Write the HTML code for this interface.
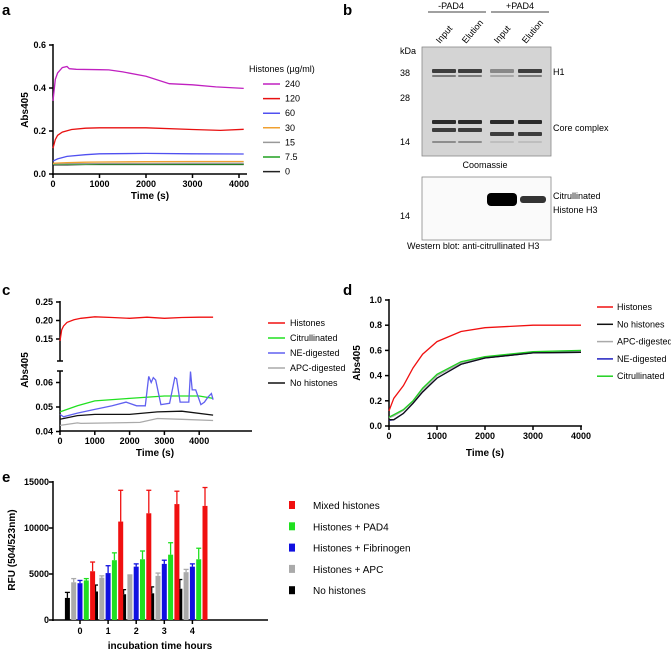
<!DOCTYPE html>
<html><head><meta charset="utf-8"><style>
body{margin:0;background:#fff;width:671px;height:652px;overflow:hidden}
svg{font-family:"Liberation Sans",sans-serif}
.t{font-size:9px;font-weight:bold}
.l{font-size:9px}
.p{font-size:15px;font-weight:bold}
</style></head><body>
<svg id="s" width="671" height="652"></svg>
<script>
// ---- Panel a data ----
const aTimes240=[0,50,100,200,300,350,500,1000,1200,1500,2000,2500,3000,3500,4100];
const a240=[0.34,0.44,0.47,0.495,0.5,0.49,0.487,0.485,0.484,0.475,0.455,0.42,0.415,0.405,0.398];
const aTimes120=[0,50,100,200,400,700,1000,2000,3000,3600,4100];
const a120=[0.12,0.16,0.18,0.195,0.207,0.213,0.215,0.215,0.207,0.203,0.208];
const aTimesLow=[0,100,300,700,1000,2000,3000,4100];
const a60=[0.06,0.07,0.082,0.09,0.094,0.096,0.094,0.093];
const a30=[0.05,0.051,0.053,0.055,0.056,0.057,0.058,0.058];
const a15=[0.047,0.047,0.048,0.048,0.049,0.049,0.05,0.05];
const a75=[0.045,0.045,0.045,0.045,0.046,0.046,0.046,0.046];
const a0=[0.043,0.043,0.043,0.044,0.044,0.044,0.044,0.044];
const aLegend=["240","120","60","30","15","7.5","0"];
const aColors=["#c020c0","#e81010","#5050f0","#f0a030","#999","#20a020","#222"];
// ---- Panel c data ----
const cTH=[0,50,100,200,400,600,1000,1500,2000,2500,3000,3500,4000,4400];
const cHist=[0.145,0.175,0.185,0.195,0.202,0.206,0.21,0.208,0.206,0.209,0.206,0.208,0.209,0.209];
const cTG=[0,500,1000,2000,3000,4000,4400];
const cCit=[0.048,0.0505,0.0525,0.0535,0.0545,0.0545,0.0535];
const cTB=[0,100,500,1000,1500,1900,2200,2450,2550,2620,2680,2750,2900,3150,3300,3350,3450,3700,3750,3800,3900,4050,4150,4250,4350,4400];
const cNE=[0.047,0.046,0.0475,0.049,0.0505,0.052,0.0505,0.0505,0.0625,0.06,0.062,0.061,0.051,0.0515,0.062,0.0615,0.052,0.052,0.0645,0.057,0.057,0.051,0.052,0.054,0.0555,0.053];
const cTK=[0,500,1000,2000,2800,3500,4400];
const cNo=[0.045,0.0465,0.047,0.047,0.048,0.0483,0.0467];
const cTA=[0,500,600,2300,2800,3500,4400];
const cAPC=[0.0425,0.0435,0.0433,0.0437,0.0453,0.045,0.0445];
// ---- Panel d data ----
const dT=[0,100,300,500,700,1000,1500,2000,3000,4000];
const dHist=[0.12,0.22,0.32,0.46,0.57,0.67,0.75,0.78,0.8,0.8];
const dNo=[0.05,0.05,0.1,0.18,0.27,0.38,0.49,0.54,0.58,0.585];
const dNE=[0.045,0.05,0.1,0.18,0.27,0.38,0.49,0.54,0.58,0.585];
const dAPC=[0.065,0.08,0.125,0.195,0.29,0.4,0.5,0.545,0.585,0.595];
const dCit=[0.07,0.09,0.13,0.2,0.3,0.41,0.51,0.55,0.59,0.6];
// ---- Panel e data ----
const eCats=["0","1","2","3","4"];
const eNames=["No histones","Histones + APC","Histones + Fibrinogen","Histones + PAD4","Mixed histones"];
const eColors=["#000","#aaa","#1010e0","#20e020","#f01010"];
const eVals=[[2400,3100,2800,2900,3400],[4100,4600,4900,4800,5200],[4000,5100,5800,6100,5800],[4300,6500,6600,7100,6600],[5300,10700,11600,12600,12400]];
const eErr=[[600,700,500,700,1000],[400,200,0,300,300],[300,800,300,400,300],[200,800,900,1300,1200],[1000,3400,2500,1400,2000]];

const S=document.getElementById('s');const NS="http://www.w3.org/2000/svg";
function el(tag,at,txt,parent){const e=document.createElementNS(NS,tag);for(const k in at)e.setAttribute(k,at[k]);if(txt!=null)e.textContent=txt;(parent||S).appendChild(e);return e;}
function line(x1,y1,x2,y2,c,w){return el('line',{x1,y1,x2,y2,stroke:c||'#000','stroke-width':w||1.5});}
function txt(x,y,s,cls,anchor,extra){const e=el('text',Object.assign({x,y,class:cls,'text-anchor':anchor||'start'},extra||{}),s);return e;}
function path(xs,ys,fx,fy,c,name,w){let d='';xs.forEach((x,i)=>{d+=(i?'L':'M')+fx(x).toFixed(1)+','+fy(ys[i]).toFixed(1);});const p=el('path',{d,fill:'none',stroke:c,'stroke-width':w||1.3});return p;}

// ===== Panel a =====
txt(2,15,'a','p');
{const fx=t=>53+t*0.0465, fy=v=>174-v*215;
line(53,44,53,175);line(52,174,247,174);
[0,0.2,0.4,0.6].forEach(v=>{line(49,fy(v),53,fy(v));txt(46,fy(v)+3,v.toFixed(1),'t','end');});
[0,1000,2000,3000,4000].forEach(v=>{line(fx(v),174,fx(v),178);txt(fx(v),187,String(v),'t','middle');});
txt(28,110,'Abs405','t','middle',{transform:'rotate(-90 28 110)',style:'font-size:10px'});
txt(150,199,'Time (s)','t','middle',{style:'font-size:10px'});
const series=[[aTimes240,a240],[aTimes120,a120],[aTimesLow,a60],[aTimesLow,a30],[aTimesLow,a15],[aTimesLow,a75],[aTimesLow,a0]];
series.slice().reverse().forEach((s,j)=>{const i=6-j;path(s[0],s[1],fx,fy,aColors[i],'line-a-'+aLegend[i]);});
txt(249,72,'Histones (µg/ml)','l');
aLegend.forEach((n,i)=>{const y=84+i*14.6;line(263,y,280,y,aColors[i],1.5);txt(285,y+3,n,'l');});}

// ===== Panel b (gel) =====
txt(343,15,'b','p');
txt(451,9,'-PAD4','l','middle');txt(520,9,'+PAD4','l','middle');
line(428,12,486,12,'#000',0.8);line(491,12,549,12,'#000',0.8);
const lanes=[444,470,502,530];const laneN=['Input','Elution','Input','Elution'];
lanes.forEach((x,i)=>txt(x-4,44,laneN[i],'l','start',{transform:`rotate(-50 ${x-4} 44)`}));
el('rect',{x:422,y:47,width:129,height:109,fill:'#d4d4d4',stroke:'#888','stroke-width':0.8,});
const bandsY=[[71,0.85,4],[76,0.5,2],[122,0.95,4],[130,0.85,4],[142,0.4,2]];
lanes.forEach((x,i)=>bandsY.forEach(b=>{let o=b[1];if(i==2&&b[0]<80)o*=0.5;if(i>=2&&b[0]==142)o*=0.3;const yy=(i>=2&&b[0]==130)?134:b[0];el('rect',{x:x-12,y:yy-b[2]/2,width:24,height:b[2],fill:'#222',opacity:o,rx:1});}));
txt(400,54,'kDa','l');txt(410,76,'38','l','end');txt(410,101,'28','l','end');txt(410,145,'14','l','end');
txt(553,75,'H1','l');txt(553,131,'Core complex','l');txt(485,168,'Coomassie','l','middle');
el('rect',{x:422,y:177,width:129,height:63,fill:'#fafafa',stroke:'#888','stroke-width':0.8,});
el('rect',{x:487,y:193,width:30,height:13,fill:'#000',rx:4});el('rect',{x:520,y:196,width:26,height:7,fill:'#333',rx:3});
txt(553,199,'Citrullinated','l');txt(553,213,'Histone H3','l');txt(410,219,'14','l','end');
txt(407,249,'Western blot: anti-citrullinated H3','l');

// ===== Panel c =====
txt(2,295,'c','p');
{const fx=t=>60+t*0.0348;
const fy=v=>v>0.1?(339-(v-0.15)*370):(407-(v-0.05)*2450);
line(60,301,60,361);line(57,361,63,361);line(60,371,60,432);line(57,371,63,371);line(59,431,252,431);
[0.15,0.2,0.25].forEach(v=>{line(56,fy(v),60,fy(v));txt(53,fy(v)+3,v.toFixed(2),'t','end');});
[0.04,0.05,0.06].forEach(v=>{line(56,fy(v),60,fy(v));txt(53,fy(v)+3,v.toFixed(2),'t','end');});
[0,1000,2000,3000,4000].forEach(v=>{line(fx(v),431,fx(v),435);txt(fx(v),444,String(v),'t','middle');});
txt(28,370,'Abs405','t','middle',{transform:'rotate(-90 28 370)',style:'font-size:10px'});
txt(155,456,'Time (s)','t','middle',{style:'font-size:10px'});
path(cTA,cAPC,fx,fy,'#aaa','line-c-apc');path(cTK,cNo,fx,fy,'#111','line-c-no-histones');
path(cTG,cCit,fx,fy,'#20e020','line-c-citrullinated');path(cTB,cNE,fx,fy,'#6060f0','line-c-ne');
path(cTH,cHist,fx,fy,'#f01010','line-c-histones');
const ln=["Histones","Citrullinated","NE-digested","APC-digested","No histones"],lc=["#f01010","#20e020","#6060f0","#aaa","#111"];
ln.forEach((n,i)=>{const y=323+i*15;line(268,y,285,y,lc[i],1.5);txt(290,y+3,n,'l');});}

// ===== Panel d =====
txt(343,295,'d','p');
{const fx=t=>389+t*0.048, fy=v=>426-v*126;
line(389,299,389,427);line(388,426,582,426);
[0,0.2,0.4,0.6,0.8,1.0].forEach(v=>{line(385,fy(v),389,fy(v));txt(382,fy(v)+3,v.toFixed(1),'t','end');});
[0,1000,2000,3000,4000].forEach(v=>{line(fx(v),426,fx(v),430);txt(fx(v),439,String(v),'t','middle');});
txt(360,363,'Abs405','t','middle',{transform:'rotate(-90 360 363)',style:'font-size:10px'});
txt(485,456,'Time (s)','t','middle',{style:'font-size:10px'});
path(dT,dAPC,fx,fy,'#aaa','line-d-apc');path(dT,dCit,fx,fy,'#20d020','line-d-citrullinated');
path(dT,dNE,fx,fy,'#2020c0','line-d-ne');path(dT,dNo,fx,fy,'#111','line-d-no-histones');
path(dT,dHist,fx,fy,'#f01010','line-d-histones');
const ln=["Histones","No histones","APC-digested","NE-digested","Citrullinated"],lc=["#f01010","#111","#aaa","#2020c0","#20d020"];
ln.forEach((n,i)=>{const y=307+i*17.3;line(597,y,613,y,lc[i],1.5);txt(617,y+3,n,'l');});}

// ===== Panel e =====
txt(2,482,'e','p');
{const fy=v=>620-v*0.0092, cx=i=>80+i*28.1;
line(53,481,53,621);line(52,620,268,620);
[0,5000,10000,15000].forEach(v=>{line(49,fy(v),53,fy(v));txt(49,fy(v)+3,String(v),'t','end');});
eCats.forEach((c,i)=>{line(cx(i),620,cx(i),624);txt(cx(i),634,c,'t','middle');});
txt(15,550,'RFU (504/523nm)','t','middle',{transform:'rotate(-90 15 550)',style:'font-size:10px'});
txt(160,649,'incubation time hours','t','middle',{style:'font-size:10px'});
eVals.forEach((ser,s)=>ser.forEach((v,i)=>{const x=cx(i)+(s-2)*6.3;const top=fy(v);
const r=el('rect',{x:x-2.5,y:top,width:5,height:620-top,fill:eColors[s]});

const et=fy(v+eErr[s][i]);line(x,top,x,et,eColors[s],1.3);line(x-2.5,et,x+2.5,et,eColors[s],1.3);}));
[4,3,2,1,0].forEach((s,k)=>{const y=505+k*21.3;el('rect',{x:289,y:y-4,width:6,height:8,fill:eColors[s]});txt(313,y+4,eNames[s],'l','start',{style:'font-size:10px'});});}
</script>
</body></html>
